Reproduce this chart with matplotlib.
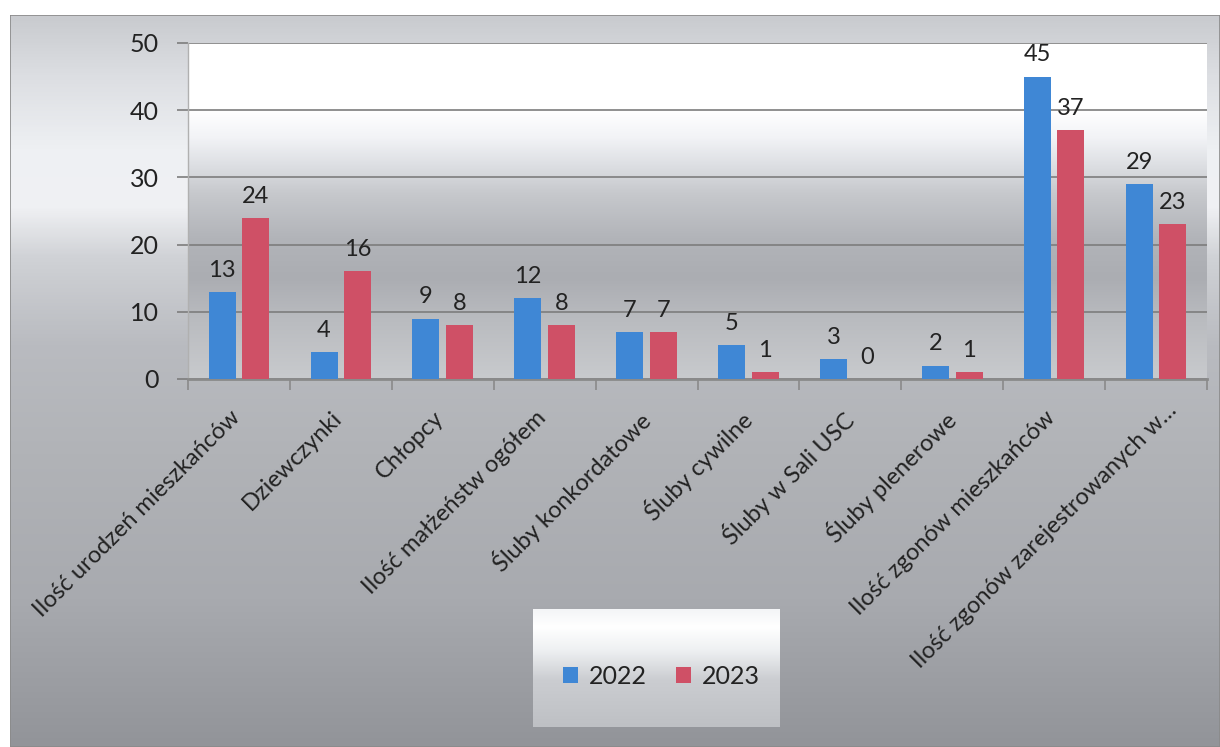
import numpy as np
import matplotlib
matplotlib.use("Agg")
import matplotlib.pyplot as plt
from matplotlib.colors import LinearSegmentedColormap
from matplotlib.patches import Patch

categories = [
    "Ilość urodzeń mieszkańców",
    "Dziewczynki",
    "Chłopcy",
    "Ilość małżeństw ogółem",
    "Śluby konkordatowe",
    "Śluby cywilne",
    "Śluby w Sali USC",
    "Śluby plenerowe",
    "Ilość zgonów mieszkańców",
    "Ilość zgonów zarejestrowanych w…",
]
values_2022 = [13, 4, 9, 12, 7, 5, 3, 2, 45, 29]
values_2023 = [24, 16, 8, 8, 7, 1, 0, 1, 37, 23]
series_labels = ["2022", "2023"]
yticks = [0, 10, 20, 30, 40, 50]

BLUE = "#3f87d5"
RED = "#cf5066"
TXT = "#222222"
FONT = "Lato"
plt.rcParams["font.family"] = [FONT, "DejaVu Sans"]

W, H = 1220, 747
fig = plt.figure(figsize=(W / 100, H / 100), dpi=100)
fig.patch.set_facecolor("white")

# ---- chart-area background gradient (whole frame) ----
bg = fig.add_axes([10 / W, 0, (W - 10) / W, (H - 15) / H])
bg.set_axis_off()
stops = [(0.0, "#c9cbcf"), (0.08, "#dcdee2"), (0.18, "#eef0f3"), (0.26, "#f0f1f4"),
         (0.33, "#d0d2d6"), (0.45, "#b9bbc0"), (0.6, "#b1b3b7"), (0.8, "#a8aaaf"),
         (1.0, "#929499")]
cmap_bg = LinearSegmentedColormap.from_list("bg", stops)
grad = np.linspace(0, 1, 400).reshape(-1, 1)
grad = np.repeat(grad, 2, axis=1)
bg.imshow(grad, aspect="auto", cmap=cmap_bg, extent=[0, 1, 1, 0], interpolation="bicubic")
bg.set_xlim(0, 1)
bg.set_ylim(1, 0)
bg.add_patch(plt.Rectangle((0, 0), 1, 1, transform=bg.transAxes, fill=False,
                           edgecolor="#8a8a8a", lw=1.2))

# ---- main axes ----
ax = fig.add_axes([188 / W, (H - 379) / H, (1207 - 188) / W, (379 - 43) / H])
ax.set_xlim(-0.5, len(categories) - 0.5)
ax.set_ylim(0, 50)

# plot area gradient (by value)
pa_stops = [(0.0, "#c8cacd"), (0.18, "#b9bbbf"), (0.3, "#abadb2"), (0.42, "#b2b4b9"),
            (0.55, "#c6c8cc"), (0.65, "#e0e2e6"), (0.72, "#f2f3f6"), (0.8, "#ffffff"),
            (1.0, "#ffffff")]
cmap_pa = LinearSegmentedColormap.from_list("pa", pa_stops)
g2 = np.linspace(0, 1, 400).reshape(-1, 1)
g2 = np.repeat(g2, 2, axis=1)
ax.imshow(g2, aspect="auto", cmap=cmap_pa, origin="lower",
          extent=[-0.5, len(categories) - 0.5, 0, 50], zorder=0, interpolation="bicubic")

x = np.arange(len(categories))
bw = 0.265
off = 0.165
b1 = ax.bar(x - off, values_2022, bw, color=BLUE, zorder=3)
b2 = ax.bar(x + off, values_2023, bw, color=RED, zorder=3)

for bars, vals in ((b1, values_2022), (b2, values_2023)):
    for rect, v in zip(bars, vals):
        ax.annotate(f"{v}", (rect.get_x() + rect.get_width() / 2, v),
                    xytext=(0, 8), textcoords="offset points",
                    ha="center", va="bottom", fontsize=17, color=TXT, zorder=5)

ax.set_yticks(yticks)
ax.yaxis.grid(True, color="#7d7d7d", lw=1.2, zorder=1)
ax.set_axisbelow(True)
ax.tick_params(axis="y", length=8, width=1.2, color="#7d7d7d", labelsize=18,
               labelcolor=TXT, pad=13)

# category labels (rotated), anchored at each category position
ax.set_xticks(x)
ax.set_xticklabels([""] * len(categories))
n = len(categories)
for i, (xi, cat) in enumerate(zip(x, categories)):
    dx, dy = (-7, -20) if i < n - 1 else (7, -15)
    ax.annotate(cat, (xi, 0), xycoords=("data", "axes fraction"),
                xytext=(dx, dy), textcoords="offset points",
                rotation=45, ha="right", va="top", rotation_mode="anchor",
                fontsize=17, color=TXT, annotation_clip=False)
ax.set_xticks(np.arange(-0.5, len(categories)), minor=True)
ax.tick_params(axis="x", which="major", length=0)
ax.tick_params(axis="x", which="minor", length=8, width=1.2, color="#8a8a8a")

for k in ("top", "right"):
    ax.spines[k].set_visible(False)
ax.spines["bottom"].set_color("#8a8a8a")
ax.spines["bottom"].set_linewidth(2)
ax.spines["left"].set_color("#b0b0b0")
ax.spines["left"].set_linewidth(1)

# ---- legend box ----
lx0, lx1, ly0, ly1 = 533, 780, 609, 727
lax = fig.add_axes([lx0 / W, (H - ly1) / H, (lx1 - lx0) / W, (ly1 - ly0) / H])
lg_stops = [(0.0, "#f4f5f7"), (0.15, "#ffffff"), (0.35, "#eef0f2"), (0.6, "#cbcdd1"),
            (1.0, "#bec0c4")]
cmap_lg = LinearSegmentedColormap.from_list("lg", lg_stops)
lax.imshow(g2, aspect="auto", cmap=cmap_lg, extent=[0, 1, 1, 0], interpolation="bicubic")
lax.set_xlim(0, 1)
lax.set_ylim(1, 0)
lax.set_axis_off()
handles = [Patch(facecolor=BLUE, edgecolor="none"), Patch(facecolor=RED, edgecolor="none")]
lax.legend(handles, series_labels, loc="center", bbox_to_anchor=(0.52, 0.43),
           ncol=2, frameon=False, fontsize=18, handlelength=0.6, handleheight=0.6,
           handletextpad=0.4, columnspacing=1.2, labelcolor=TXT)

fig.savefig("out.png", dpi=100, facecolor=fig.get_facecolor())
